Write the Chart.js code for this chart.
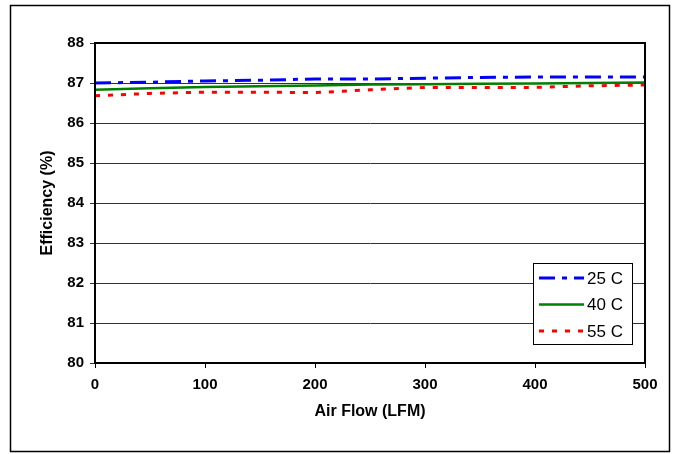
<!DOCTYPE html>
<html>
<head>
<meta charset="utf-8">
<script src="https://cdn.jsdelivr.net/npm/chart.js@4/dist/chart.umd.min.js"></script>
<style>
  html, body { margin: 0; padding: 0; background: #fff; }
  #wrap { width: 678px; height: 454px; }
</style>
</head>
<body>
<div id="wrap"><canvas id="c"></canvas></div>
<script>
// air flow in LFM
const airFlow = [0, 50, 100, 150, 200, 250, 300, 350, 400, 450, 500];
// efficiency (%)
const eff25 = [87.0, 87.02, 87.05, 87.07, 87.1, 87.1, 87.12, 87.14, 87.15, 87.15, 87.15];
const eff40 = [86.83, 86.87, 86.9, 86.92, 86.94, 86.96, 86.97, 86.98, 86.99, 87.0, 87.01];
const eff55 = [86.68, 86.74, 86.77, 86.77, 86.76, 86.83, 86.89, 86.89, 86.89, 86.93, 86.95];
const seriesNames = ["25 C", "40 C", "55 C"];

const FONT = "'Liberation Sans', Arial, sans-serif";
const pts = (ys) => airFlow.map((x, i) => ({ x: x, y: ys[i] }));

// outer frame + plot box
const frame = {
  id: "frame",
  beforeDraw(chart) {
    const ctx = chart.ctx;
    ctx.save();
    ctx.fillStyle = "#fff";
    ctx.fillRect(0, 0, chart.width, chart.height);
    ctx.strokeStyle = "#000";
    ctx.lineWidth = 1.5;
    ctx.strokeRect(10.5, 5.5, 659, 446);
    ctx.restore();
  },
  afterDatasetsDraw(chart) {
    const { ctx, chartArea: a } = chart;
    ctx.save();
    ctx.strokeStyle = "#000";
    ctx.lineWidth = 2;
    ctx.strokeRect(a.left, a.top, a.right - a.left, a.bottom - a.top);
    ctx.restore();
  }
};

// legend box inside the plot, bottom right
const boxLegend = {
  id: "boxLegend",
  afterDraw(chart) {
    const ctx = chart.ctx;
    const x0 = 533, y0 = 263, w = 99, h = 81;
    ctx.save();
    ctx.fillStyle = "#fff";
    ctx.fillRect(x0, y0, w, h);
    ctx.strokeStyle = "#000";
    ctx.lineWidth = 1;
    ctx.strokeRect(x0 + 0.5, y0 + 0.5, w, h);
    ctx.font = "17px " + FONT;
    ctx.textBaseline = "middle";
    ctx.fillStyle = "#000";
    chart.data.datasets.forEach((ds, i) => {
      const y = 278 + i * 26.5;
      ctx.beginPath();
      ctx.strokeStyle = ds.borderColor;
      ctx.lineWidth = ds.borderWidth;
      ctx.setLineDash(ds.borderDash || []);
      ctx.moveTo(539, y);
      ctx.lineTo(584, y);
      ctx.stroke();
      ctx.setLineDash([]);
      ctx.fillText(ds.label, 587, y + 1);
    });
    ctx.restore();
  }
};

new Chart(document.getElementById("c"), {
  type: "line",
  data: {
    datasets: [
      { label: seriesNames[0], data: pts(eff25), borderColor: "#0000FF", borderWidth: 3, borderDash: [16, 7, 5, 7] },
      { label: seriesNames[1], data: pts(eff40), borderColor: "#008000", borderWidth: 2.5 },
      { label: seriesNames[2], data: pts(eff55), borderColor: "#FF0000", borderWidth: 3, borderDash: [5, 8] }
    ]
  },
  options: {
    responsive: true,
    maintainAspectRatio: false,
    animation: false,
    elements: { point: { radius: 0 }, line: { tension: 0, borderCapStyle: "butt" } },
    layout: { padding: { left: 10, right: 33, top: 43, bottom: 30 } },
    plugins: { legend: { display: false }, tooltip: { enabled: false } },
    scales: {
      x: {
        type: "linear",
        min: 0,
        max: 500,
        afterFit(s) { s.height = 61; },
        ticks: { stepSize: 100, padding: 8, color: "#000", font: { family: FONT, size: 15, weight: "bold" } },
        grid: { drawOnChartArea: false, color: "#000", tickLength: 5 },
        border: { color: "#000", width: 2 },
        title: { display: true, text: "Air Flow (LFM)", color: "#000", padding: { top: 0, bottom: 3 }, font: { family: FONT, size: 16, weight: "bold" } }
      },
      y: {
        min: 80,
        max: 88,
        afterFit(s) { s.width = 85; },
        ticks: { stepSize: 1, padding: 6, color: "#000", font: { family: FONT, size: 15, weight: "bold" } },
        grid: { color: "#333", lineWidth: 1, tickLength: 5 },
        border: { color: "#000", width: 2 },
        title: { display: true, text: "Efficiency (%)", color: "#000", padding: { top: 28, bottom: 0 }, font: { family: FONT, size: 16, weight: "bold" } }
      }
    }
  },
  plugins: [frame, boxLegend]
});
</script>
</body>
</html>
